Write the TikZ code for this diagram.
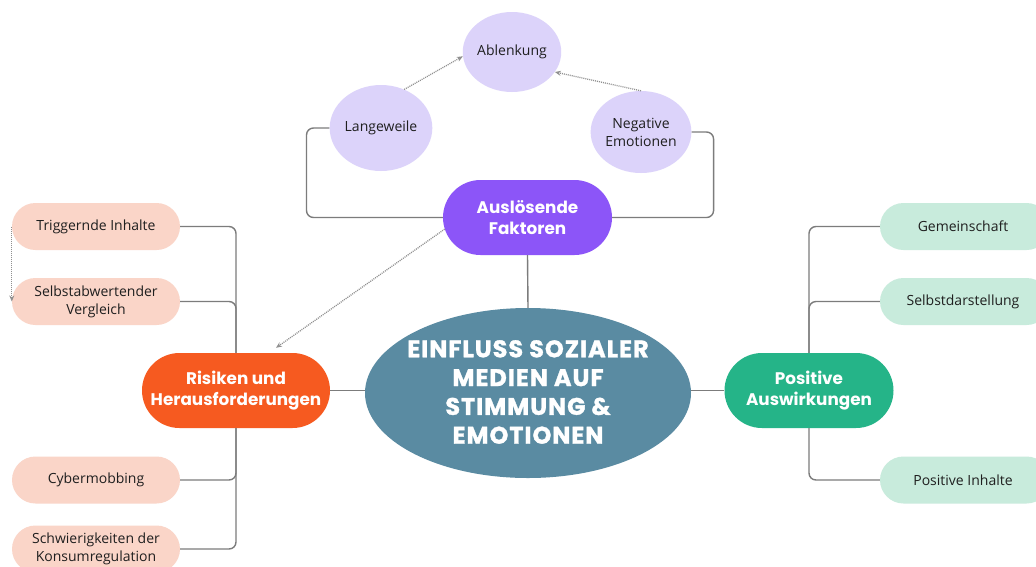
\documentclass[tikz,border=0pt]{standalone}
\usepackage{fontspec}
\setmainfont{Open Sans}
\newfontfamily\headfont{Poppins}
\newfontfamily\heavyfont[LetterSpace=4,BoldFeatures={FakeBold=1.2}]{Poppins}
\usetikzlibrary{shapes.geometric,shapes.misc,arrows.meta,calc}
\definecolor{ctrblue}{HTML}{5A8BA2}
\definecolor{purp}{HTML}{8C55F8}
\definecolor{lav}{HTML}{DCD3FA}
\definecolor{orng}{HTML}{F65A20}
\definecolor{salmon}{HTML}{FAD5C8}
\definecolor{grn}{HTML}{25B488}
\definecolor{mint}{HTML}{C8EBDC}
\definecolor{lin}{HTML}{7C7C7C}
\begin{document}
\begin{tikzpicture}[x=1pt,y=-1pt,
  conn/.style={draw=lin,line width=1.4pt,rounded corners=7pt},
  dotarrow/.style={draw=lin!85,line width=1.3pt,dash pattern=on 1pt off 1pt,-{Stealth[length=6pt,width=5pt]}},
  mainpill/.style={rounded rectangle,draw=none,inner sep=0pt,minimum width=169pt,minimum height=75pt,text=white,align=center,font=\headfont\bfseries\fontsize{16.8}{21.5}\selectfont},
  childpill/.style={rounded rectangle,draw=none,inner sep=0pt,minimum width=168pt,minimum height=47pt,align=center,text=black!88,font=\fontsize{14}{18}\selectfont},
  bubble/.style={ellipse,fill=lav,inner sep=0pt,align=center,text=black!88,font=\fontsize{14}{18}\selectfont}
]
\useasboundingbox (0,0) rectangle (1036,566);
\clip (0,0) rectangle (1036,566);
\fill[white] (0,0) rectangle (1036,566);

% center
\node[ellipse,fill=ctrblue,minimum width=326pt,minimum height=170pt,inner sep=0pt] (c) at (528,393) {};
\node[text=white,align=center,font=\heavyfont\bfseries\fontsize{24}{28.8}\selectfont] (ct) at ($(c.center)+(0,-1)$) {EINFLUSS SOZIALER\\MEDIEN AUF\\STIMMUNG \&\\EMOTIONEN};

% top
\node[mainpill,fill=purp] (ausl) at (527.5,217.5) {Auslösende\\Faktoren};
\node[bubble,minimum width=102pt,minimum height=86pt] (lang) at (381,128) {Langeweile};
\node[bubble,minimum width=96pt,minimum height=80pt] (abl) at (512,52) {Ablenkung};
\node[bubble,minimum width=98pt,minimum height=82pt] (neg) at (641,132) {Negative\\Emotionen};

% left
\node[mainpill,fill=orng,minimum width=188pt] (risk) at (236,390.5) {Risiken und\\Herausforderungen};
\node[childpill,fill=salmon] (trig) at (96,226.5) {Triggernde Inhalte};
\node[childpill,fill=salmon] (selb) at (96,301.5) {Selbstabwertender\\Vergleich};
\node[childpill,fill=salmon] (cyb) at (96,480) {Cybermobbing};
\node[childpill,fill=salmon] (schw) at (96,549) {Schwierigkeiten der\\Konsumregulation};

% right
\node[mainpill,fill=grn] (pos) at (809,390.5) {Positive\\Auswirkungen};
\node[childpill,fill=mint,minimum width=170pt] (gem) at (965,226.5) {\hspace*{-4pt}Gemeinschaft};
\node[childpill,fill=mint,minimum width=170pt] (sd) at (965,301.5) {\hspace*{-4pt}Selbstdarstellung};
\node[childpill,fill=mint,minimum width=170pt] (pi) at (965,480) {\hspace*{-4pt}Positive Inhalte};

% connectors
\draw[conn] (ausl.south) -- (c.north);
\draw[conn] (risk.east) -- (risk.east -| c.west);
\draw[conn] (pos.west) -- (pos.west -| c.east);
\draw[conn] (lang.west) -- ++(-23,0) |- (ausl.west);
\draw[conn] (neg.east) -- ++(22,0) |- (ausl.east);
\draw[conn] (trig.east) -| (risk.north);
\draw[conn] (selb.east) -| (risk.north);
\draw[conn] (cyb.east) -| (risk.south);
\draw[conn] (schw.east) -| (risk.south);
\draw[conn] (gem.west) -| (pos.north);
\draw[conn] (sd.west) -| (pos.north);
\draw[conn] (pi.west) -| (pos.south);

% dotted arrows
\draw[dotarrow] (lang.59) -- (abl.185);
\draw[dotarrow] (neg.north) -- (abl.-25);
\draw[dotarrow] (ausl.188) -- ($(risk.north)+(40,-5)$);
\draw[dotarrow] (trig.west) -- (selb.west);
\end{tikzpicture}
\end{document}
